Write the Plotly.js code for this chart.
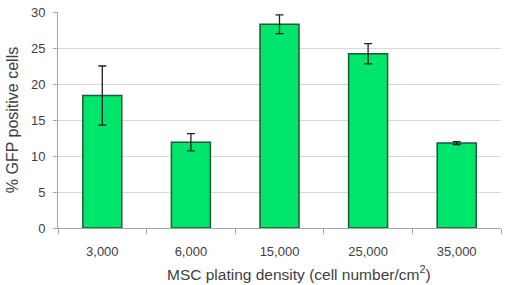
<!DOCTYPE html>
<html><head><meta charset="utf-8">
<script src="https://cdn.plot.ly/plotly-3.0.1.min.js"></script>
<style>html,body{margin:0;padding:0;background:#fff}</style>
</head><body>
<div id="chart" style="width:507px;height:285px"></div>
<script>
const categories = ["3,000", "6,000", "15,000", "25,000", "35,000"];
const gfpPercent = [18.4, 11.9, 28.3, 24.2, 11.8];
const errorValues = [4.1, 1.2, 1.3, 1.4, 0.2];
const yTickVals = [0, 5, 10, 15, 20, 25, 30];
const xTitle = "MSC plating density (cell number/cm<sup>2</sup>)";
const yTitle = "% GFP positive cells";

const trace = {
  type: "bar",
  x: categories,
  y: gfpPercent,
  width: 0.44,
  marker: {color: "#00e56b", line: {color: "#1e5a32", width: 1.5}},
  error_y: {type: "data", array: errorValues, visible: true, color: "#222", thickness: 1.3, width: 4}
};

const layout = {
  width: 507, height: 285,
  margin: {l: 58, r: 6, t: 12, b: 57},
  paper_bgcolor: "#fff", plot_bgcolor: "#fff",
  showlegend: false,
  font: {family: "'Liberation Sans', Arial, sans-serif", color: "#404040"},
  xaxis: {
    type: "category",
    tickson: "boundaries",
    ticks: "outside", ticklen: 5, tickcolor: "#a6a6a6",
    showline: true, linecolor: "#a6a6a6", linewidth: 1,
    showgrid: false,
    ticklabelstandoff: 11,
    tickfont: {size: 13, color: "#404040"}
  },
  yaxis: {
    range: [0, 30],
    tickvals: yTickVals,
    ticks: "outside", ticklen: 4, tickcolor: "#a6a6a6",
    showline: true, linecolor: "#a6a6a6", linewidth: 1,
    gridcolor: "#d9d9d9", gridwidth: 1,
    zeroline: false,
    ticklabelstandoff: 5,
    tickfont: {size: 13, color: "#404040"},
    title: {text: yTitle, font: {size: 16, color: "#404040"}, standoff: 8}
  },
  annotations: [{
    text: xTitle, showarrow: false,
    xref: "paper", yref: "paper", x: 0.545, y: 0,
    xanchor: "center", yanchor: "bottom", yshift: -57,
    font: {size: 15.5, color: "#404040"}
  }],
  bargap: 0.56
};

Plotly.newPlot("chart", [trace], layout, {displayModeBar: false, staticPlot: true});
</script>
</body></html>
